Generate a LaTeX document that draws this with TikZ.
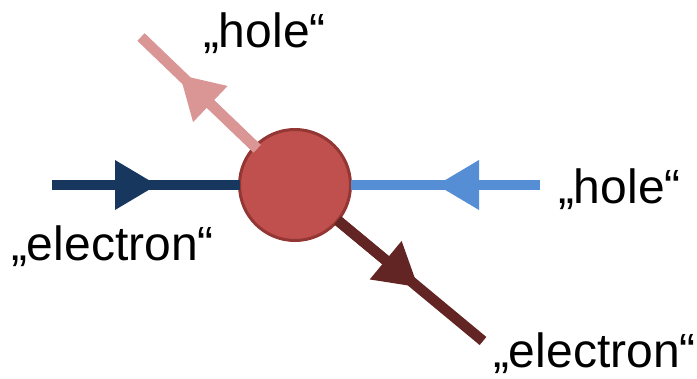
\documentclass[tikz,border=0pt]{standalone}
\usepackage{fontspec}
\setmainfont{Liberation Sans}
\usetikzlibrary{arrows.meta}
\definecolor{cfill}{HTML}{C0504D}
\definecolor{cborder}{HTML}{943634}
\definecolor{darkblue}{HTML}{17375E}
\definecolor{lightblue}{HTML}{558ED5}
\definecolor{lightpink}{HTML}{D99694}
\definecolor{darkred}{HTML}{632523}
\begin{document}
\begin{tikzpicture}[x=1pt,y=-1pt,
  conn/.style={line width=10.5pt},
  tiparrow/.style={-{Triangle[length=42pt,width=50pt,line width=0pt]}},
  lbl/.style={anchor=base west, inner sep=0pt, outer sep=0pt, font=\fontsize{48}{58}\selectfont}]
\useasboundingbox (0,0) rectangle (697,378);
\node[circle, draw=cborder, fill=cfill, line width=3pt, minimum size=111pt, inner sep=0pt, outer sep=0pt] (c) at (295,185) {};
% incoming electron (dark blue)
\coordinate (ebS) at (52,185);
\coordinate (ebT) at (157,185);
\draw[conn, darkblue] (ebS) -- (c);
\draw[conn, darkblue, tiparrow] (ebS) -- (ebT);
% incoming hole (light blue)
\coordinate (hbS) at (540,185);
\coordinate (hbT) at (437,185);
\draw[conn, lightblue] (hbS) -- (c);
\draw[conn, lightblue, tiparrow] (hbS) -- (hbT);
% outgoing hole (pink)
\coordinate (hpT) at (180,75);
\coordinate (hpE) at (141,37);
\draw[conn, lightpink, shorten >=-3pt] (hpE) -- (c);
\draw[conn, lightpink, tiparrow, shorten <=-3pt] (c) -- (hpT);
% outgoing electron (dark red)
\coordinate (erT) at (418,287);
\coordinate (erE) at (483,341);
\draw[conn, darkred] (c) -- (erE);
\draw[conn, darkred, tiparrow] (c) -- (erT);
% labels
\node[lbl] (l1) at (203,47) {„hole“};
\node[lbl] (l2) at (558,203) {„hole“};
\node[lbl] (l3) at (11,260) {„electron“};
\node[lbl] (l4) at (493,367) {„electron“};
\end{tikzpicture}
\end{document}
